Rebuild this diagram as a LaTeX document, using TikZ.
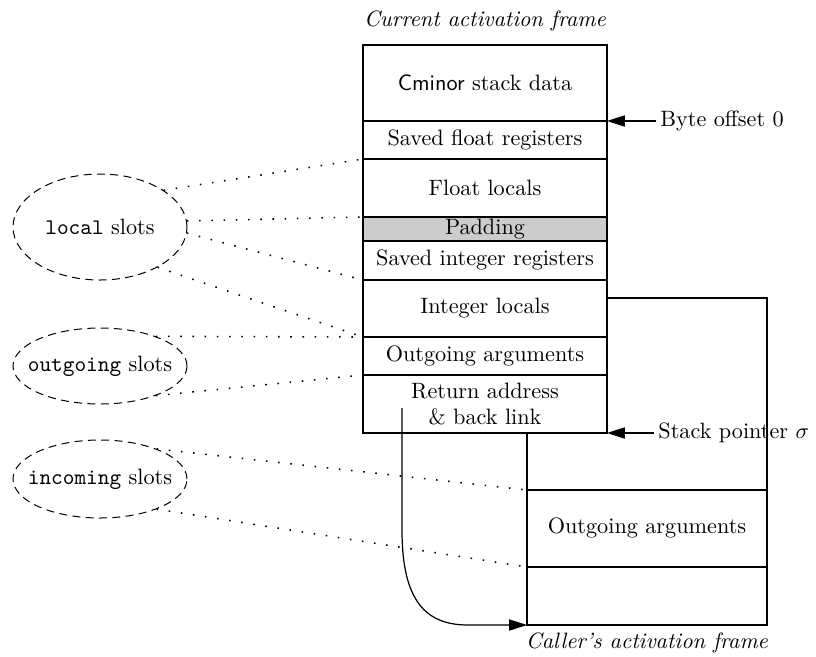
\documentclass[tikz,border=0pt]{standalone}
\usetikzlibrary{arrows.meta,shapes.geometric}
\begin{document}
\begin{tikzpicture}[x=0.45pt,y=-0.45pt,
  frame/.style={line width=1.3pt},
  rowline/.style={line width=0.7pt},
  thinrow/.style={line width=0.5pt},
  slot/.style={ellipse,draw,dash pattern=on 3.6pt off 2.4pt,line width=0.45pt,inner sep=0pt,minimum width=78.3pt},
  link/.style={dash pattern=on 0.7pt off 4.8pt,line width=0.7pt},
  ptr/.style={-{Triangle[length=8pt,width=5pt]},line width=0.55pt},
  lbl/.style={inner sep=0pt,font=\normalsize}]
\useasboundingbox (0,0) rectangle (816,656);

% ---- caller's frame (behind)
\draw[frame] (527,298) rectangle (767,625);
\draw[thinrow] (527,490) -- (767,490);
\draw[rowline] (527,567) -- (767,567);

% ---- current frame
\fill[white] (363,45) rectangle (607,433);
\fill[gray!40] (363,217) rectangle (607,241);
\foreach \yy in {121,159,217,241,280,337,375}
  \draw[rowline] (363,\yy) -- (607,\yy);
\draw[frame] (363,45) rectangle (607,433);

% ---- row labels
\node[lbl] (cm)  at (485,83)  {\textsf{Cminor} stack data};
\node[lbl] (sfr) at (485,140) {Saved float registers};
\node[lbl] (flo) at (485,188) {Float locals};
\node[lbl] (pad) at (485,229) {Padding};
\node[lbl] (sir) at (485,260) {Saved integer registers};
\node[lbl] (ilo) at (485,308) {Integer locals};
\node[lbl] (oar) at (485,356) {Outgoing arguments};
\node[lbl,align=center] (ret) at (485,404) {Return address\\ \& back link};
\node[lbl] (coa) at (647,528) {Outgoing arguments};

% ---- captions
\node[lbl] (cur) at (485,21) {\textit{Current activation frame}};
\node[lbl] (cal) at (647,643) {\textit{Caller's activation frame}};

% ---- boundary points
\coordinate (bfl) at (363,159);
\coordinate (bpd) at (363,217);
\coordinate (bil) at (363,280);
\coordinate (boa) at (363,337);
\coordinate (bra) at (363,375);
\coordinate (bc1) at (527,490);
\coordinate (bc2) at (527,567);

% ---- slot ellipses
\node[slot,minimum height=47.7pt] (loc) at (100,227) {};
\node[lbl] (loct) at (loc) {\texttt{local} slots};
\node[slot,minimum height=34.2pt] (out) at (100,366) {};
\node[lbl] (outt) at (out) {\texttt{outgoing} slots};
\node[slot,minimum height=35.1pt] (inc) at (100,479) {};
\node[lbl] (inct) at (inc) {\texttt{incoming} slots};

\draw[link] (loc.30) -- (bfl);
\draw[link] (loc.4) -- (bpd);
\draw[link] (loc.-4) -- (bil);
\draw[link] (loc.-35) -- (boa);
\draw[link] (out.28) -- (boa);
\draw[link] (out.-28) -- (bra);
\draw[link] (inc.28) -- (bc1);
\draw[link] (inc.-28) -- (bc2);

% ---- pointers
\node[lbl,anchor=west] (bo) at (660,121) {Byte offset 0};
\coordinate (bop) at (607,121);
\draw[ptr] ([xshift=-2pt]bo.west) -- (bop);

\node[lbl,anchor=west] (sp) at (658,433) {Stack pointer $\sigma$};
\coordinate (spp) at (607,433);
\draw[ptr] ([xshift=-2pt]sp.west) -- (spp);

% ---- back link arrow
\coordinate (rs) at (402,408);
\coordinate (cb) at (527,625);
\draw[ptr] (rs) -- (402,530) .. controls (402,600) and (425,625) .. (468,625) -- (cb);
\end{tikzpicture}
\end{document}
